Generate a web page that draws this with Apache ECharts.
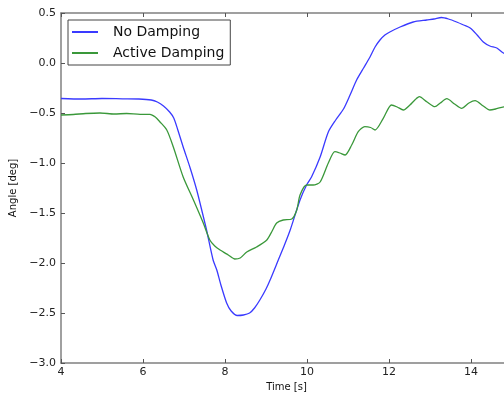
<!DOCTYPE html>
<html>
<head>
<meta charset="utf-8">
<script src="https://cdn.jsdelivr.net/npm/echarts@6/dist/echarts.min.js"></script>
<style>
  html, body { margin: 0; padding: 0; background: #fff; }
  #chart { width: 504px; height: 394px; }
</style>
</head>
<body>
<div id="chart"></div>
<script>
// values
const seriesNames = ['No Damping', 'Active Damping'];

const noDampingTime = [4.0, 4.5, 5.0, 5.5, 5.9, 6.2, 6.35, 6.5, 6.65, 6.75, 6.85, 6.98, 7.15, 7.31, 7.45, 7.55,
  7.71, 7.8, 7.9, 8.04, 8.15, 8.3, 8.45, 8.6, 8.72, 8.85, 9.0, 9.1, 9.3, 9.45, 9.59, 9.83, 9.99, 10.11, 10.32,
  10.52, 10.7, 10.89, 11.05, 11.21, 11.38, 11.54, 11.66, 11.78, 11.9, 12.02, 12.27, 12.59, 12.92, 13.1, 13.28,
  13.45, 13.65, 13.82, 13.98, 14.15, 14.3, 14.46, 14.63, 14.79, 15.0];
const noDampingAngle = [-0.355, -0.36, -0.355, -0.358, -0.36, -0.37, -0.39, -0.43, -0.49, -0.55, -0.67, -0.84,
  -1.05, -1.27, -1.5, -1.67, -1.97, -2.07, -2.22, -2.4, -2.48, -2.525, -2.52, -2.5, -2.45, -2.37, -2.26, -2.17,
  -1.97, -1.82, -1.67, -1.37, -1.22, -1.14, -0.94, -0.69, -0.57, -0.46, -0.32, -0.17, -0.05, 0.063, 0.16, 0.23,
  0.28, 0.31, 0.36, 0.41, 0.43, 0.44, 0.455, 0.44, 0.41, 0.38, 0.35, 0.28, 0.21, 0.17, 0.15, 0.1, 0.06];

const activeTime = [4.0, 4.3, 4.6, 4.95, 5.3, 5.6, 5.93, 6.17, 6.3, 6.41, 6.58, 6.74, 6.98, 7.23, 7.47, 7.63,
  7.75, 7.88, 8.08, 8.24, 8.37, 8.53, 8.77, 9.02, 9.15, 9.26, 9.42, 9.63, 9.75, 9.83, 9.99, 10.15, 10.32, 10.52,
  10.68, 10.8, 10.93, 11.09, 11.25, 11.41, 11.55, 11.66, 11.86, 12.06, 12.2, 12.35, 12.51, 12.63, 12.74, 12.92,
  13.12, 13.25, 13.41, 13.6, 13.77, 13.95, 14.1, 14.3, 14.46, 14.6, 14.75, 15.0];
const activeAngle = [-0.52, -0.515, -0.505, -0.5, -0.51, -0.505, -0.513, -0.513, -0.54, -0.587, -0.67, -0.84,
  -1.14, -1.37, -1.6, -1.77, -1.83, -1.87, -1.92, -1.96, -1.95, -1.89, -1.84, -1.77, -1.68, -1.6, -1.57, -1.56,
  -1.47, -1.32, -1.22, -1.22, -1.19, -1.0, -0.887, -0.9, -0.92, -0.82, -0.687, -0.637, -0.645, -0.67, -0.553,
  -0.42, -0.44, -0.47, -0.42, -0.37, -0.337, -0.387, -0.437, -0.4, -0.357, -0.41, -0.453, -0.4, -0.377, -0.43,
  -0.47, -0.46, -0.443, -0.43];

const pairs = (xs, ys) => xs.map((x, i) => [x, ys[i]]);
const minus = (s) => s.replace('-', '\u2212');

const spine = { show: true, onZero: false, lineStyle: { color: '#808080', width: 1.5 } };
const ticks = { show: true, inside: true, length: 4, lineStyle: { color: '#555' } };
const font = 'DejaVu Sans';

const chart = echarts.init(document.getElementById('chart'));

chart.setOption({
  backgroundColor: '#fff',
  animation: false,
  // the original figure runs past the right edge of the picture
  grid: { left: 61, top: 13, right: -8, bottom: 31, outerBoundsMode: 'none', containLabel: false },
  legend: {
    orient: 'vertical',
    left: 68,
    top: 20,
    padding: [4, 6, 4, 4],
    itemGap: 5,
    itemWidth: 26,
    itemHeight: 2,
    icon: 'rect',
    borderColor: '#444',
    borderWidth: 1,
    borderRadius: 0,
    backgroundColor: '#fff',
    textStyle: { fontFamily: font, fontSize: 14, color: '#111', lineHeight: 16, padding: [0, 0, 0, 10] },
    data: seriesNames
  },
  xAxis: [
    {
      type: 'value',
      min: 4,
      max: 15,
      interval: 2,
      name: 'Time [s]',
      nameLocation: 'middle',
      nameGap: 19,
      nameTextStyle: { fontFamily: font, fontSize: 10, color: '#111' },
      axisLine: spine,
      axisTick: ticks,
      axisLabel: {
        margin: 4, fontFamily: font, fontSize: 11, color: '#222', showMaxLabel: false,
        formatter: (v) => minus(String(v))
      },
      splitLine: { show: false }
    },
    {
      type: 'value',
      position: 'top',
      min: 4,
      max: 15,
      interval: 2,
      axisLine: spine,
      axisTick: ticks,
      axisLabel: { show: false },
      splitLine: { show: false }
    }
  ],
  yAxis: {
    type: 'value',
    min: -3,
    max: 0.5,
    interval: 0.5,
    name: 'Angle [deg]',
    nameLocation: 'middle',
    nameGap: 34,
    nameTextStyle: { fontFamily: font, fontSize: 10, color: '#111' },
    axisLine: spine,
    axisTick: ticks,
    axisLabel: { margin: 5, fontFamily: font, fontSize: 11, color: '#222', formatter: (v) => minus(v.toFixed(1)) },
    splitLine: { show: false }
  },
  series: [
    {
      name: seriesNames[0],
      type: 'line',
      data: pairs(noDampingTime, noDampingAngle),
      showSymbol: false,
      smooth: 0.25,
      itemStyle: { color: '#3a3aff' },
      lineStyle: { color: '#3a3aff', width: 1.3 }
    },
    {
      name: seriesNames[1],
      type: 'line',
      data: pairs(activeTime, activeAngle),
      showSymbol: false,
      smooth: 0.25,
      itemStyle: { color: '#3a983a' },
      lineStyle: { color: '#3a983a', width: 1.3 }
    }
  ]
});
</script>
</body>
</html>
